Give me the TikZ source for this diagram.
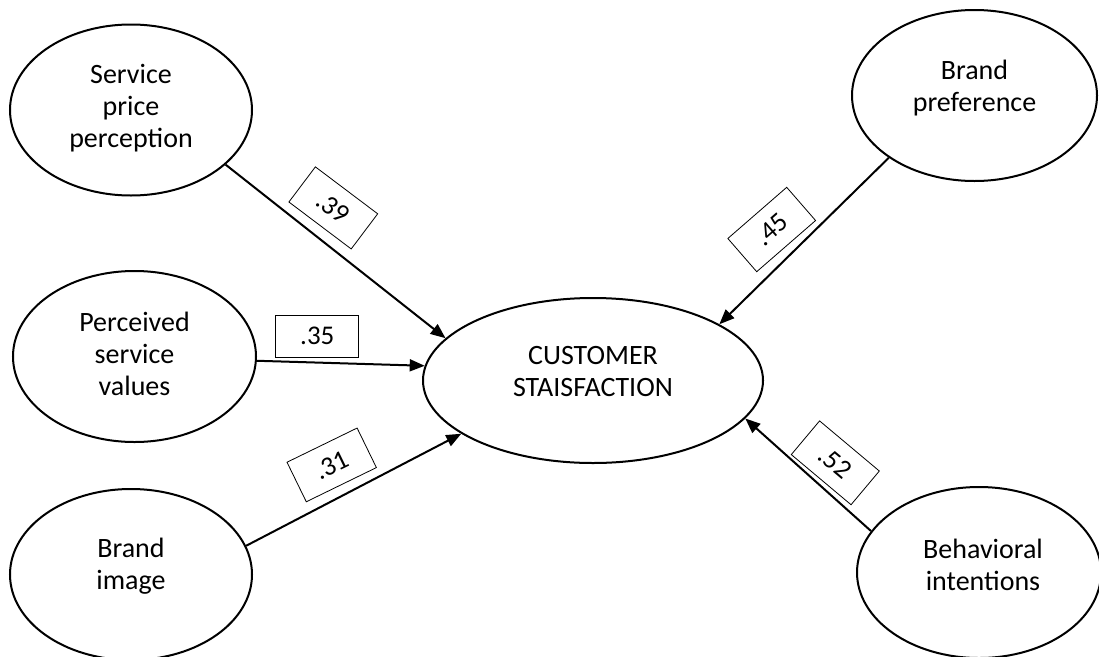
\documentclass[tikz,border=0pt]{standalone}
\usepackage{fontspec}
\setmainfont{Carlito}
\usetikzlibrary{shapes.geometric,arrows.meta}
\begin{document}
\begin{tikzpicture}[x=1pt,y=-1pt,
  latent/.style={draw, line width=2pt, ellipse, inner sep=0pt, minimum height=171pt},
  txt/.style={align=center, inner sep=0pt, font=\fontsize{28}{32}\selectfont},
  coef/.style={draw, line width=0.8pt, minimum width=78pt, minimum height=44pt, inner sep=0pt, font=\fontsize{27}{32}\selectfont},
  causal/.style={line width=2pt, -{Triangle[length=15pt,width=12pt]}}]
\useasboundingbox (0,0) rectangle (1099,656);
% latent variables
\node[latent, minimum width=242pt] (spp) at (131,110) {};
\node[latent, minimum width=243pt] (psv) at (134.5,356.5) {};
\node[latent, minimum width=242pt] (bi) at (131,574.5) {};
\node[latent, minimum width=245pt] (bp) at (974.5,95.5) {};
\node[latent, minimum width=244pt] (bh) at (979,572.5) {};
\node[latent, minimum width=340pt, minimum height=165pt] (cs) at (593,380.5) {};
% texts
\node[txt] (tspp) at (131,108.5) {Service\\price\\perception};
\node[txt] (tpsv) at (134.5,353.7) {Perceived\\service\\values};
\node[txt] (tbi) at (131,566.5) {Brand\\image};
\node[txt] (tbp) at (974.5,88) {Brand\\preference};
\node[txt] (tbh) at (983,565) {Behavioral\\intentions};
\node[txt] (tcs) at (593,372) {CUSTOMER\\STAISFACTION};
% paths
\draw[causal] (spp.-30) -- (cs.164.5);
\draw[causal] (psv.-2.5) -- (cs.175.5);
\draw[causal] (bi.14.3) -- (cs.202.8);
\draw[causal] (bp.216.5) -- (cs.24.3);
\draw[causal] (bh.159) -- (cs.-14.7);
% coefficients
\node[coef, rotate=-37] (l39) at (333.3,207.9) {.39};
\node[coef, minimum width=83pt, minimum height=42pt] (l35) at (317.3,336) {.35};
\node[coef, rotate=26] (l31) at (331.7,464.9) {.31};
\node[coef, rotate=41] (l45) at (771.7,229.5) {.45};
\node[coef, rotate=-40] (l52) at (835.3,462.8) {.52};
\end{tikzpicture}
\end{document}
